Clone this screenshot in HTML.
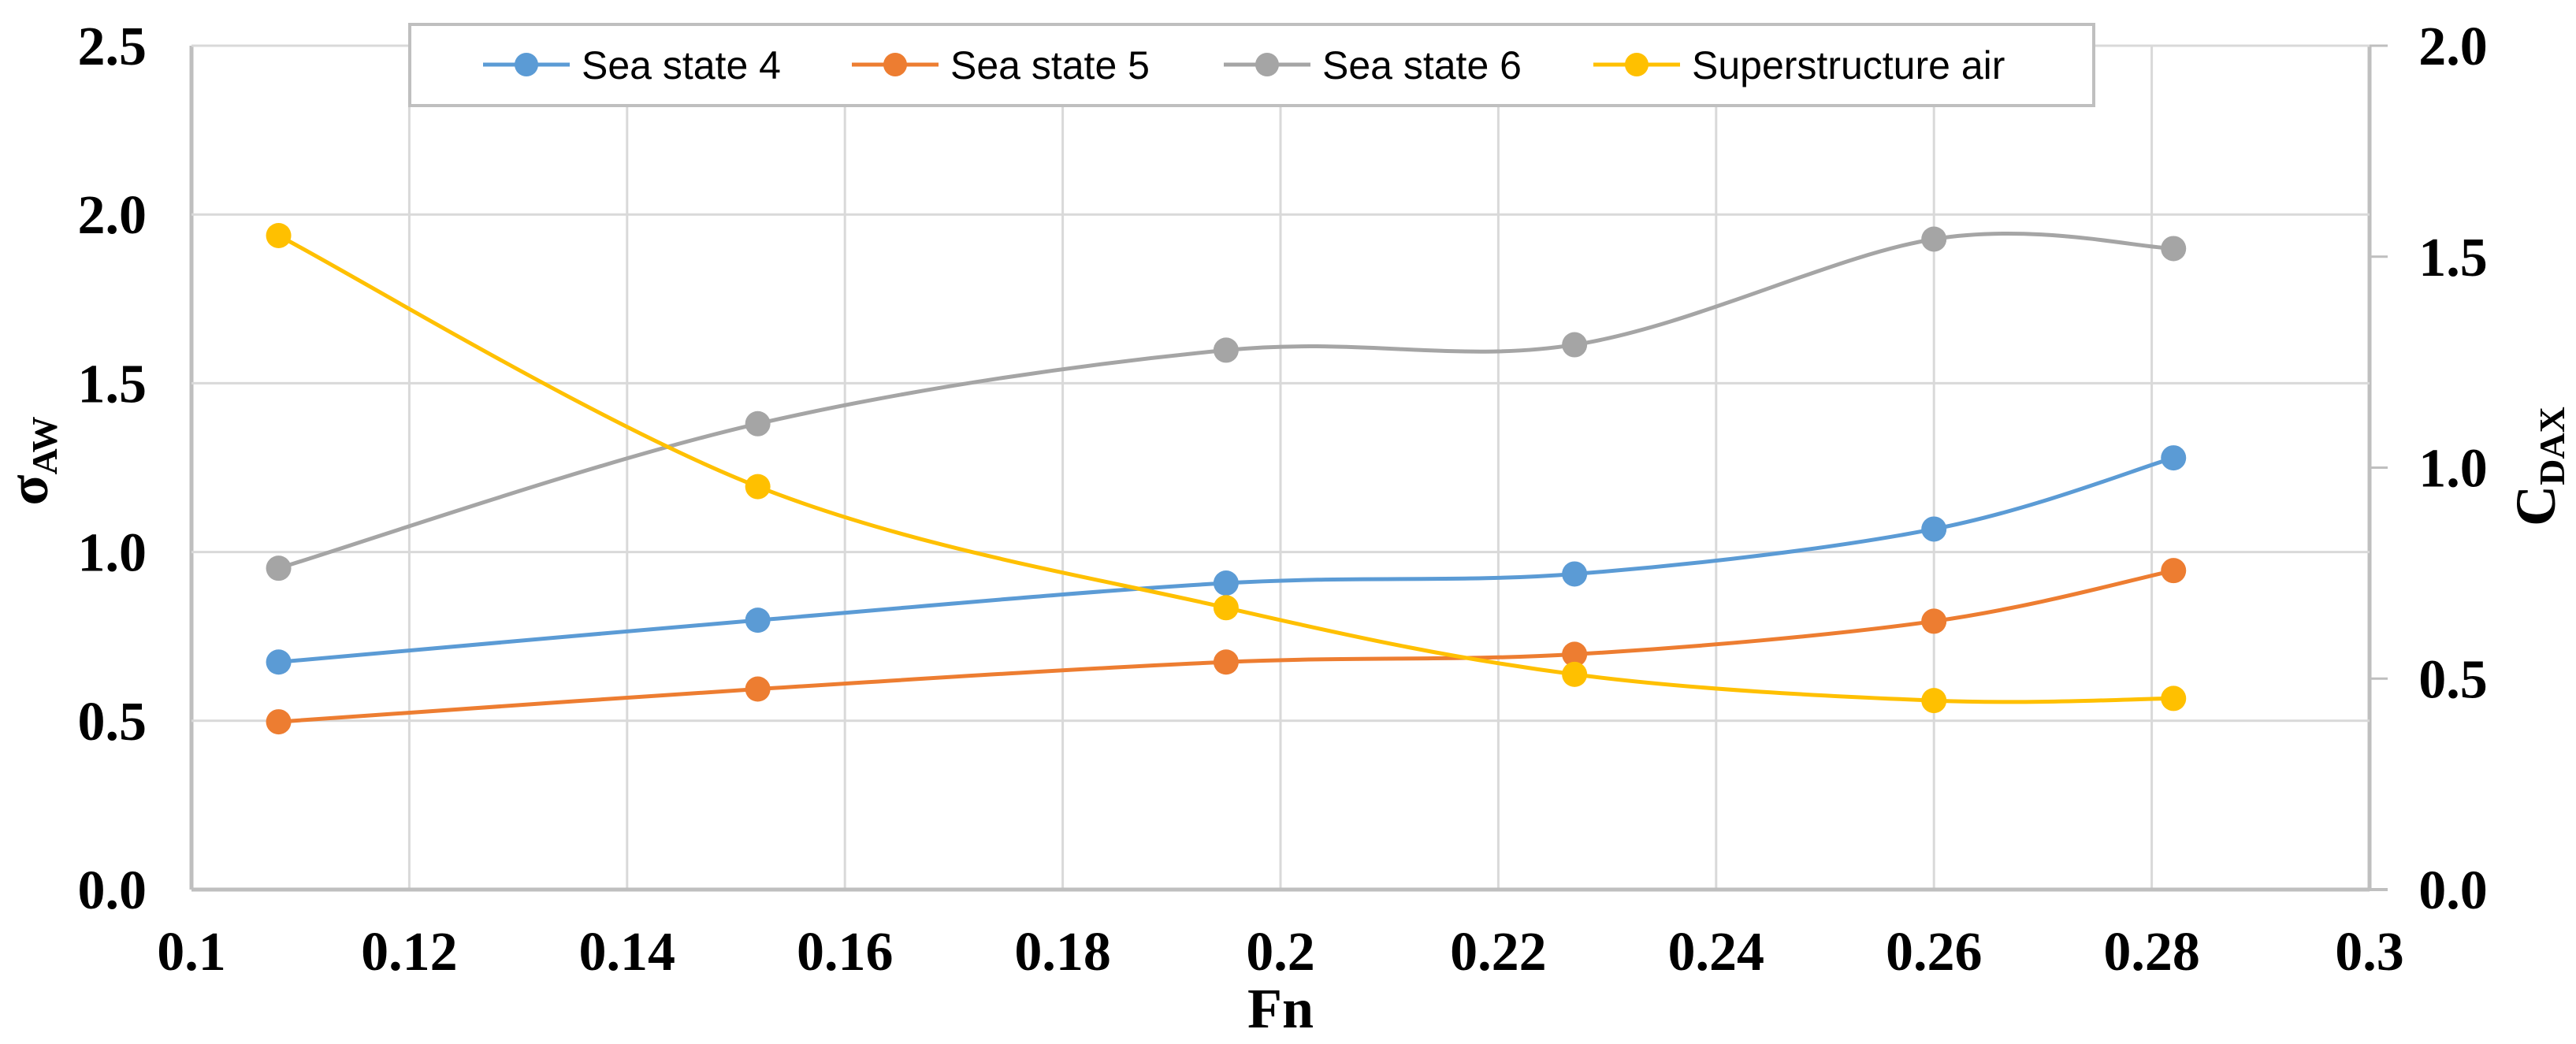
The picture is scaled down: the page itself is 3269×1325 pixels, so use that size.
<!DOCTYPE html>
<html><head><meta charset="utf-8"><style>
html,body{margin:0;padding:0;background:#fff;}
svg{display:block;}
</style></head><body>
<svg id="chart" width="3269" height="1325" viewBox="0 0 3269 1325" xmlns="http://www.w3.org/2000/svg" font-family="'Liberation Serif', serif">
<g id="grid"></g>
<g id="axes"></g>
<g id="series"></g>
<text x="1625" y="1304" font-size="72" font-weight="bold" text-anchor="middle">Fn</text>
<text transform="translate(60,585) rotate(-90)" font-size="72" font-weight="bold" text-anchor="middle">σ<tspan font-size="46" dy="12">AW</tspan></text>
<text transform="translate(3242,592) rotate(-90)" font-size="72" font-weight="bold" text-anchor="middle">C<tspan font-size="46" dy="12">DAX</tspan></text>
<g id="legend"></g>
</svg>
<script>
const fn = [0.108, 0.152, 0.195, 0.227, 0.260, 0.282];
const seaState4 = [0.674, 0.798, 0.908, 0.935, 1.068, 1.279];
const seaState5 = [0.497, 0.594, 0.674, 0.697, 0.795, 0.945];
const seaState6 = [0.952, 1.38, 1.598, 1.614, 1.927, 1.899];
const superstructureAir = [1.55, 0.955, 0.668, 0.51, 0.448, 0.453];
const xTicks = [0.1, 0.12, 0.14, 0.16, 0.18, 0.2, 0.22, 0.24, 0.26, 0.28, 0.3];
const xTickLabels = ["0.1","0.12","0.14","0.16","0.18","0.2","0.22","0.24","0.26","0.28","0.3"];
const yLeftTicks = [0, 0.5, 1.0, 1.5, 2.0, 2.5];
const yLeftLabels = ["0.0","0.5","1.0","1.5","2.0","2.5"];
const yRightTicks = [0, 0.5, 1.0, 1.5, 2.0];
const yRightLabels = ["0.0","0.5","1.0","1.5","2.0"];
const seriesNames = ["Sea state 4","Sea state 5","Sea state 6","Superstructure air"];

const NS = "http://www.w3.org/2000/svg";
const L = 243, R = 3007, T = 58, B = 1129;
const xS = v => L + (v - 0.1) / 0.2 * (R - L);
const yL = v => B - v / 2.5 * (B - T);
const yR = v => B - v / 2.0 * (B - T);
function mk(tag, attrs, parent){ const e=document.createElementNS(NS,tag); for(const k in attrs) e.setAttribute(k,attrs[k]); parent.appendChild(e); return e; }

const grid=document.getElementById('grid'), axes=document.getElementById('axes');
xTicks.forEach((t,i)=>{
  const gl = mk('line',{x1:xS(t),x2:xS(t),y1:T,y2:B,stroke:i===0||i===xTicks.length-1?'#bfbfbf':'#d9d9d9','stroke-width':i===0||i===xTicks.length-1?5:3},grid);
  
  
  const tl = mk('text',{x:xS(t),y:1231,'font-size':70,'font-weight':'bold','text-anchor':'middle'},axes);
  tl.textContent = xTickLabels[i];
  
  
});
yLeftTicks.forEach((t,i)=>{
  const gl = mk('line',{x1:L,x2:R,y1:yL(t),y2:yL(t),stroke:i===0?'#bfbfbf':'#d9d9d9','stroke-width':i===0?5:3},grid);
  
  
  const tl = mk('text',{x:186,y:yL(t)+24,'font-size':70,'font-weight':'bold','text-anchor':'end'},axes);
  tl.textContent = yLeftLabels[i];
  
  
});
mk('line',{x1:R,x2:3030,y1:B,y2:B,stroke:'#bfbfbf','stroke-width':4},axes);
yRightTicks.forEach((t,i)=>{
  const tk = mk('line',{x1:R,x2:3030,y1:yR(t),y2:yR(t),stroke:'#bfbfbf','stroke-width':3},axes);
  
  
  const tl = mk('text',{x:3113,y:yR(t)+24,'font-size':70,'font-weight':'bold','text-anchor':'middle'},axes);
  tl.textContent = yRightLabels[i];
  
  
});

function smoothPath(pts){
  let d = `M${pts[0][0]},${pts[0][1]}`;
  for(let i=0;i<pts.length-1;i++){
    const p0=pts[i-1]||pts[i], p1=pts[i], p2=pts[i+1], p3=pts[i+2]||pts[i+1];
    const c1=[p1[0]+(p2[0]-p0[0])/6, p1[1]+(p2[1]-p0[1])/6];
    const c2=[p2[0]-(p3[0]-p1[0])/6, p2[1]-(p3[1]-p1[1])/6];
    d += ` C${c1[0]},${c1[1]} ${c2[0]},${c2[1]} ${p2[0]},${p2[1]}`;
  }
  return d;
}
const seriesG=document.getElementById('series');
const sets=[
  {vals:seaState4,col:'#5b9bd5',y:yL,name:'series-sea-state-4'},
  {vals:seaState5,col:'#ed7d31',y:yL,name:'series-sea-state-5'},
  {vals:seaState6,col:'#a5a5a5',y:yL,name:'series-sea-state-6'},
  {vals:superstructureAir,col:'#ffc000',y:yR,name:'series-superstructure-air'}
];
sets.forEach(s=>{
  const g = mk('g',{},seriesG);
  
  
  const pts = fn.map((f,i)=>[xS(f), s.y(s.vals[i])]);
  const p = mk('path',{d:smoothPath(pts),fill:'none',stroke:s.col,'stroke-width':5},g);
  
  
  pts.forEach(pt=>{
    const c = mk('circle',{cx:pt[0],cy:pt[1],r:16,fill:s.col},g);
    
    
  });
});

const lg=document.getElementById('legend');
const box = mk('rect',{x:520,y:31,width:2137,height:103,fill:'#fff',stroke:'#bfbfbf','stroke-width':4},lg);


const lx=[668,1136,1608,2077];
seriesNames.forEach((n,i)=>{
  const g = mk('g',{},lg);
  
  
  mk('line',{x1:lx[i]-55,x2:lx[i]+55,y1:82,y2:82,stroke:sets[i].col,'stroke-width':5},g);
  mk('circle',{cx:lx[i],cy:82,r:15,fill:sets[i].col},g);
  const t = mk('text',{x:lx[i]+70,y:100,'font-size':50,'font-family':"'Liberation Sans', sans-serif"},g);
  t.textContent = n;
});
</script>
</body></html>
